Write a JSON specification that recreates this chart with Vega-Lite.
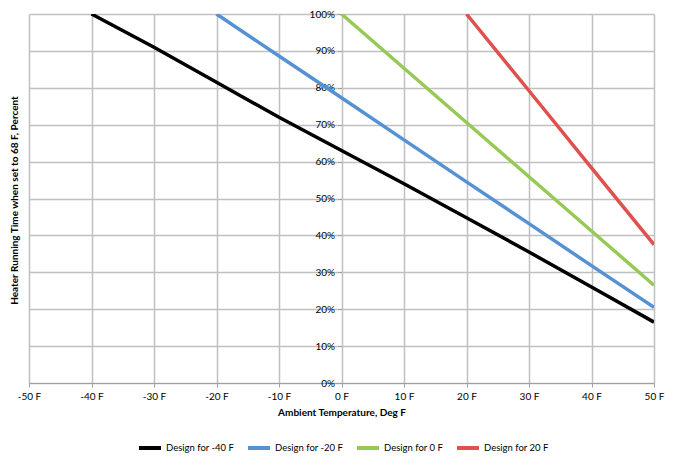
{
  "$schema": "https://vega.github.io/schema/vega-lite/v6.json",
  "width": 625,
  "height": 369,
  "autosize": {"type": "none"},
  "padding": {"left": 29, "top": 14, "right": 23, "bottom": 78},
  "background": "#ffffff",
  "config": {
    "view": {"stroke": null},
    "font": "Lato",
    "axis": {"labelFont": "Lato", "titleFont": "Lato", "labelFontSize": 10, "titleFontSize": 10, "labelColor": "#000000", "titleColor": "#000000", "gridColor": "#c0c0c0", "gridWidth": 1.5, "domainColor": "#a0a0a0", "tickColor": "#a0a0a0", "tickSize": 4},
    "legend": {"labelFont": "Lato", "labelFontSize": 9.5, "labelColor": "#000000"}
  },
  "data": {
    "values": [
      {"design": "Design for -40 F", "temp": -40, "pct": 1.0},
      {"design": "Design for -40 F", "temp": -30, "pct": 0.91},
      {"design": "Design for -40 F", "temp": -20, "pct": 0.815},
      {"design": "Design for -40 F", "temp": -10, "pct": 0.72},
      {"design": "Design for -40 F", "temp": 0, "pct": 0.63},
      {"design": "Design for -40 F", "temp": 10, "pct": 0.54},
      {"design": "Design for -40 F", "temp": 20, "pct": 0.448},
      {"design": "Design for -40 F", "temp": 30, "pct": 0.355},
      {"design": "Design for -40 F", "temp": 40, "pct": 0.26},
      {"design": "Design for -40 F", "temp": 50, "pct": 0.165},
      {"design": "Design for -20 F", "temp": -20, "pct": 1.0},
      {"design": "Design for -20 F", "temp": -10, "pct": 0.886},
      {"design": "Design for -20 F", "temp": 0, "pct": 0.773},
      {"design": "Design for -20 F", "temp": 10, "pct": 0.659},
      {"design": "Design for -20 F", "temp": 20, "pct": 0.545},
      {"design": "Design for -20 F", "temp": 30, "pct": 0.432},
      {"design": "Design for -20 F", "temp": 40, "pct": 0.318},
      {"design": "Design for -20 F", "temp": 50, "pct": 0.205},
      {"design": "Design for 0 F", "temp": 0, "pct": 1.0},
      {"design": "Design for 0 F", "temp": 10, "pct": 0.853},
      {"design": "Design for 0 F", "temp": 20, "pct": 0.706},
      {"design": "Design for 0 F", "temp": 30, "pct": 0.559},
      {"design": "Design for 0 F", "temp": 40, "pct": 0.412},
      {"design": "Design for 0 F", "temp": 50, "pct": 0.265},
      {"design": "Design for 20 F", "temp": 20, "pct": 1.0},
      {"design": "Design for 20 F", "temp": 30, "pct": 0.792},
      {"design": "Design for 20 F", "temp": 40, "pct": 0.583},
      {"design": "Design for 20 F", "temp": 50, "pct": 0.375}
    ]
  },
  "mark": {"type": "line", "strokeWidth": 3.5, "clip": true},
  "encoding": {
    "x": {
      "field": "temp", "type": "quantitative",
      "scale": {"domain": [-50, 50], "nice": false, "zero": false},
      "axis": {
        "values": [-50, -40, -30, -20, -10, 0, 10, 20, 30, 40, 50],
        "labelExpr": "datum.value + ' F'",
        "title": "Ambient Temperature, Deg F",
        "titleFontWeight": "bold",
        "labelPadding": 4,
        "titlePadding": 6,
        "labelFlush": false
      }
    },
    "y": {
      "field": "pct", "type": "quantitative",
      "scale": {"domain": [0, 1], "nice": false},
      "axis": {
        "values": [0, 0.1, 0.2, 0.3, 0.4, 0.5, 0.6, 0.7, 0.8, 0.9, 1.0],
        "format": ".0%",
        "offset": -312.5,
        "domain": false,
        "labelPadding": 3,
        "labelFlush": false,
        "title": "Heater Running Time when set to 68 F, Percent",
        "titleFontWeight": "bold",
        "titleX": -327,
        "titleY": 186,
        "titleAngle": 270,
        "titleAlign": "center",
        "titleBaseline": "middle"
      }
    },
    "color": {
      "field": "design", "type": "nominal",
      "sort": ["Design for -40 F", "Design for -20 F", "Design for 0 F", "Design for 20 F"],
      "scale": {
        "domain": ["Design for -40 F", "Design for -20 F", "Design for 0 F", "Design for 20 F"],
        "range": ["#000000", "#5592d4", "#97c956", "#e0504d"]
      },
      "legend": {
        "title": null,
        "orient": "none",
        "legendX": 108,
        "legendY": 421,
        "direction": "horizontal",
        "gridAlign": "none",
        "symbolType": "stroke",
        "symbolSize": 484,
        "symbolStrokeWidth": 4,
        "labelOffset": 3,
        "columnPadding": 5
      }
    }
  }
}
